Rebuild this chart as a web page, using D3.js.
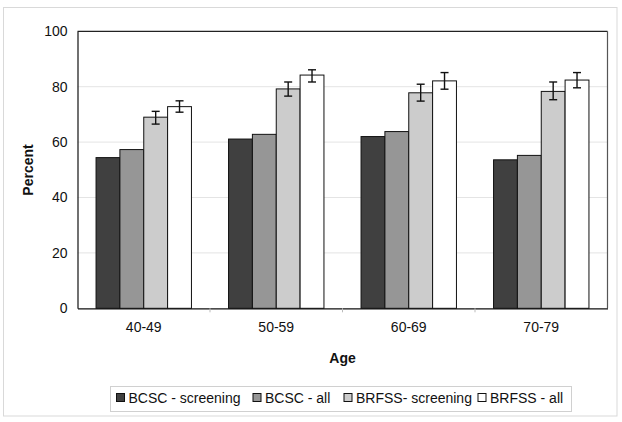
<!DOCTYPE html>
<html><head><meta charset="utf-8">
<script src="https://cdn.jsdelivr.net/npm/d3@7"></script>
<style>body{margin:0;background:#fff;}svg{display:block;font-family:Arial,"Liberation Sans",sans-serif;}</style>
</head><body>
<svg id="c" width="622" height="422"></svg>
<script>
const categories = ["40-49", "50-59", "60-69", "70-79"];
const seriesNames = ["BCSC - screening", "BCSC - all", "BRFSS- screening", "BRFSS - all"];
const bcscScreening = [54.4, 61.1, 62.0, 53.6];
const bcscAll = [57.3, 62.8, 63.8, 55.2];
const brfssScreening = [69.0, 79.2, 77.8, 78.3];
const brfssAll = [72.8, 84.2, 82.1, 82.4];
const brfssScreeningLow = [66.5, 76.6, 74.8, 75.3];
const brfssScreeningHigh = [71.1, 81.7, 80.9, 81.7];
const brfssAllLow = [70.8, 81.7, 79.1, 79.6];
const brfssAllHigh = [74.9, 86.1, 85.1, 85.1];
const yTicks = [0, 20, 40, 60, 80, 100];
const colors = ["#404040", "#969696", "#cccccc", "#ffffff"];

const series = [bcscScreening, bcscAll, brfssScreening, brfssAll];
const errLow = [null, null, brfssScreeningLow, brfssAllLow];
const errHigh = [null, null, brfssScreeningHigh, brfssAllHigh];

const svg = d3.select("#c");
const L = 77.5, R = 607.5, T = 31.3, B = 308.3;

// outer border
svg.append("rect").attr("x", 3.5).attr("y", 7.5).attr("width", 613.5).attr("height", 408.5)
  .attr("fill", "#fff").attr("stroke", "#d9d9d9").attr("stroke-width", 1);

const x = d3.scaleBand().domain(categories).range([L, R]).padding(0);
const inner = d3.scaleBand().domain(d3.range(4)).range([0, x.bandwidth() * 0.72]).padding(0);
const groupOffset = x.bandwidth() * 0.14;
const y = d3.scaleLinear().domain([0, 100]).range([B, T]);

// gridlines
svg.append("g").selectAll("line").data(yTicks.filter(d => d > 0 && d < 100)).join("line")
  .attr("x1", L).attr("x2", R).attr("y1", d => y(d)).attr("y2", d => y(d))
  .attr("stroke", "#e4e4e4").attr("stroke-width", 1);

// frame top & right
svg.append("line").attr("x1", L).attr("x2", R).attr("y1", T).attr("y2", T).attr("stroke", "#222").attr("stroke-width", 1.2);
svg.append("line").attr("x1", R).attr("x2", R).attr("y1", T).attr("y2", B).attr("stroke", "#555").attr("stroke-width", 1.2);

// bars
const data = [];
categories.forEach((c, i) => series.forEach((s, j) => data.push({c, j, v: s[i], lo: errLow[j] ? errLow[j][i] : null, hi: errHigh[j] ? errHigh[j][i] : null})));
svg.append("g").selectAll("rect").data(data).join("rect")
  .attr("x", d => x(d.c) + groupOffset + inner(d.j))
  .attr("y", d => y(d.v))
  .attr("width", inner.bandwidth())
  .attr("height", d => y(0) - y(d.v))
  .attr("fill", d => colors[d.j])
  .attr("stroke", "#111").attr("stroke-width", 1);

// error bars
const eb = svg.append("g").attr("stroke", "#111").attr("stroke-width", 1.4);
data.filter(d => d.lo !== null).forEach(d => {
  const cx = x(d.c) + groupOffset + inner(d.j) + inner.bandwidth() / 2;
  eb.append("line").attr("x1", cx).attr("x2", cx).attr("y1", y(d.hi)).attr("y2", y(d.lo));
  eb.append("line").attr("x1", cx - 4).attr("x2", cx + 4).attr("y1", y(d.hi)).attr("y2", y(d.hi));
  eb.append("line").attr("x1", cx - 4).attr("x2", cx + 4).attr("y1", y(d.lo)).attr("y2", y(d.lo));
});

// y axis
const yAxis = svg.append("g").attr("transform", `translate(${L},0)`)
  .call(d3.axisLeft(y).tickValues(yTicks).tickSize(0).tickPadding(10).tickFormat(d3.format("d")));
yAxis.select(".domain").attr("stroke", "#111").attr("stroke-width", 1.2);
yAxis.selectAll("text").attr("font-size", "14px").attr("fill", "#111");

// x axis
const xAxis = svg.append("g").attr("transform", `translate(0,${B})`)
  .call(d3.axisBottom(x).tickSize(0).tickPadding(14));
xAxis.select(".domain").attr("stroke", "#111").attr("stroke-width", 1.2);
xAxis.selectAll("text").attr("font-size", "14px").attr("fill", "#111");
svg.append("g").selectAll("line").data(categories.slice(1)).join("line")
  .attr("x1", d => x(d)).attr("x2", d => x(d)).attr("y1", B).attr("y2", B + 4)
  .attr("stroke", "#bbb");

// axis titles
svg.append("text").attr("x", 342.5).attr("y", 362.5).attr("text-anchor", "middle")
  .attr("font-size", "14px").attr("font-weight", "bold").attr("fill", "#111").text("Age");
svg.append("text").attr("transform", "translate(33,170) rotate(-90)").attr("text-anchor", "middle")
  .attr("font-size", "14px").attr("font-weight", "bold").attr("fill", "#111").text("Percent");

// legend
svg.append("rect").attr("x", 110.5).attr("y", 386.5).attr("width", 461).attr("height", 25)
  .attr("fill", "#fff").attr("stroke", "#d0d0d0");
const legX = [116, 252.5, 343.5, 477.5];
const lg = svg.append("g");
seriesNames.forEach((n, i) => {
  lg.append("rect").attr("x", legX[i] + 0.5).attr("y", 393.5).attr("width", 8).attr("height", 8)
    .attr("fill", colors[i]).attr("stroke", "#111").attr("stroke-width", 1);
  lg.append("text").attr("x", legX[i] + 12.5).attr("y", 402.5).attr("font-size", "14px").attr("fill", "#111").text(n);
});
</script>
</body></html>
